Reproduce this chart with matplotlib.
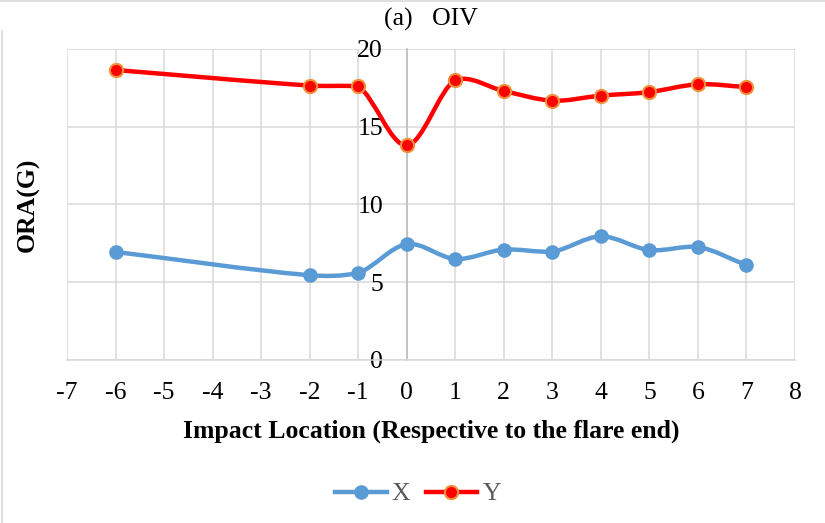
import numpy as np
import matplotlib
matplotlib.use("Agg")
import matplotlib.pyplot as plt
from matplotlib.path import Path
from matplotlib.patches import PathPatch
from matplotlib.lines import Line2D

# datos
ubicacion = [-6, -2, -1, 0, 1, 2, 3, 4, 5, 6, 7]
ora_x = [6.95, 5.45, 5.6, 7.45, 6.5, 7.1, 6.97, 7.95, 7.07, 7.27, 6.1]
ora_y = [18.65, 17.65, 17.6, 13.8, 18.0, 17.3, 16.68, 17.0, 17.23, 17.73, 17.55]
xticks = list(range(-7, 9))
yticks = [0, 5, 10, 15, 20]

plt.rcParams['font.family'] = ['Liberation Serif', 'DejaVu Serif']

azul = '#5B9BD5'
rojo = '#FF0000'
naranja = '#F0913C'
gris = '#D9D9D9'
fs = 18.5


def curva_suave(xs, ys):
    # bezier parecido a la "linea suavizada" de Excel
    pts = np.column_stack([xs, ys]).astype(float)
    n = len(pts)
    tang = []
    for i in range(n):
        a = pts[max(i - 1, 0)]
        b = pts[min(i + 1, n - 1)]
        tang.append((b - a) / (b[0] - a[0]))
    verts = [pts[0]]
    codes = [Path.MOVETO]
    for i in range(n - 1):
        p1, p2 = pts[i], pts[i + 1]
        d = p2[0] - p1[0]
        c1 = p1 + tang[i] * d / 3.0
        c2 = p2 - tang[i + 1] * d / 3.0
        # limitar el rebote en tramos casi planos
        lo, hi = min(p1[1], p2[1]), max(p1[1], p2[1])
        marg = 0.5 * (hi - lo)
        c1[1] = np.clip(c1[1], lo - marg, hi + marg)
        c2[1] = np.clip(c2[1], lo - marg, hi + marg)
        verts += [c1, c2, p2]
        codes += [Path.CURVE4] * 3
    return Path(verts, codes)


fig = plt.figure(figsize=(8.25, 5.23), dpi=100)
ax = fig.add_axes([67 / 825, 1 - 360 / 523, 728 / 825, 311 / 523])

ax.set_xlim(-7, 8)
ax.set_ylim(0, 20)
ax.set_xticks(xticks)
ax.set_yticks(yticks)
ax.set_xticklabels([str(t) for t in xticks])
ax.grid(True, color=gris, linewidth=1.1, zorder=0)
ax.set_axisbelow(True)

for s in ['top', 'right']:
    ax.spines[s].set_visible(False)
ax.spines['bottom'].set_color(gris)
ax.spines['bottom'].set_linewidth(1.1)
ax.spines['left'].set_position(('data', 0))
ax.spines['left'].set_color('#BFBFBF')
ax.spines['left'].set_linewidth(1.2)

ax.tick_params(axis='both', length=0, labelsize=fs)
ax.tick_params(axis='y', pad=17)
ax.tick_params(axis='x', pad=16)

# lineas suavizadas
ax.add_patch(PathPatch(curva_suave(ubicacion, ora_x), facecolor='none',
                       edgecolor=azul, linewidth=3.2, capstyle='round', zorder=3))
ax.add_patch(PathPatch(curva_suave(ubicacion, ora_y), facecolor='none',
                       edgecolor=rojo, linewidth=3.2, capstyle='round', zorder=4))
ax.plot(ubicacion, ora_x, linestyle='none', marker='o', markersize=9.5,
        color=azul, markeredgecolor=azul, zorder=5)
ax.plot(ubicacion, ora_y, linestyle='none', marker='o', markersize=9.5,
        color=rojo, markeredgecolor=naranja, markeredgewidth=1.5, zorder=6)

ax.set_ylabel('ORA(G)', fontsize=fs, fontweight='bold', va='center')
ax.yaxis.set_label_coords(-0.0537, 0.5)
ax.set_xlabel('Impact Location (Respective to the flare end)', fontsize=fs,
              fontweight='bold', va='center')
ax.xaxis.set_label_coords(0.5, -0.228)

fig.text(431 / 825, 1 - 19 / 523, '(a)   OIV', fontsize=fs, ha='center', va='center')

h_x = Line2D([], [], color=azul, linewidth=3.2, marker='o', markersize=9.5)
h_y = Line2D([], [], color=rojo, linewidth=3.2, marker='o', markersize=9.5,
             markeredgecolor=naranja, markeredgewidth=1.5)
fig.legend([h_x, h_y], ['X', 'Y'], loc='center', bbox_to_anchor=(418 / 825, 1 - 494 / 523),
           ncol=2, frameon=False, fontsize=fs, handlelength=2.0, handletextpad=0.2,
           columnspacing=0.6, labelcolor='#595959')

# bordes del area del grafico
fig.add_artist(Line2D([0, 1], [1 - 1 / 523, 1 - 1 / 523], color=gris, linewidth=1.2))
fig.add_artist(Line2D([2 / 825, 2 / 825], [0, 1 - 31 / 523], color=gris, linewidth=1.2))

fig.savefig('out.png', dpi=100)
